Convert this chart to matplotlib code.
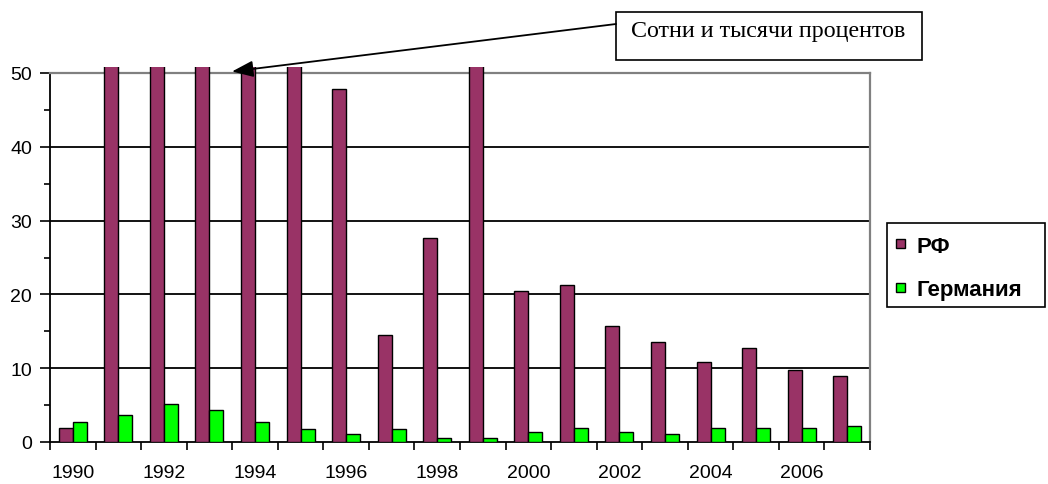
import matplotlib
matplotlib.use("Agg")
import matplotlib.pyplot as plt
import numpy as np
from matplotlib.patches import Rectangle, FancyArrowPatch
from matplotlib.ticker import MultipleLocator, FixedLocator

years = list(range(1990, 2008))
rf = [1.9, 92.6, 2509, 840, 215, 131, 47.8, 14.5, 27.7, 85.7, 20.5, 21.3, 15.7, 13.5, 10.8, 12.7, 9.7, 8.9]
germany = [2.7, 3.6, 5.1, 4.4, 2.7, 1.7, 1.1, 1.7, 0.5, 0.5, 1.4, 1.9, 1.4, 1.1, 1.9, 1.9, 1.9, 2.2]
series_names = ["РФ", "Германия"]
series_colors = ["#993366", "#00FF00"]
annotation_text = "Сотни и тысячи процентов"

W, H = 1048, 485
fig = plt.figure(figsize=(W / 100, H / 100), dpi=100)
plt.rcParams['font.family'] = ['Liberation Sans', 'DejaVu Sans']

ax = fig.add_axes([50 / W, 1 - 443 / H, (870 - 50) / W, (443 - 74) / H])

x = np.arange(len(years))
w = 0.3077
b1 = ax.bar(x - w / 2, rf, w, color=series_colors[0], edgecolor="black", linewidth=1.0,
            label=series_names[0], zorder=3)
b2 = ax.bar(x + w / 2, germany, w, color=series_colors[1], edgecolor="black", linewidth=1.0,
            label=series_names[1], zorder=3)

clip = Rectangle((0, 0), 1, 1.017, transform=ax.transAxes, facecolor="none", edgecolor="none")
for p in list(b1) + list(b2):
    p.set_clip_path(clip)

ax.set_xlim(-0.5, len(years) - 0.5)
ax.set_ylim(0, 50)

for v in [10, 20, 30, 40]:
    ax.axhline(v, color="black", linewidth=1.3, zorder=1)

ax.spines['top'].set_color('#808080')
ax.spines['right'].set_color('#808080')
ax.spines['top'].set_linewidth(1.6)
ax.spines['right'].set_linewidth(1.6)
ax.spines['left'].set_linewidth(1.3)
ax.spines['bottom'].set_linewidth(1.3)

ax.yaxis.set_major_locator(MultipleLocator(10))
ax.yaxis.set_minor_locator(MultipleLocator(5))
ax.tick_params(axis='y', which='major', length=7, width=1.2, labelsize=14, pad=6)
ax.tick_params(axis='y', which='minor', length=4, width=1.2)

ax.xaxis.set_major_locator(FixedLocator(x[::2]))
ax.set_xticklabels([str(y) for y in years[::2]])
ax.xaxis.set_minor_locator(FixedLocator(np.arange(-0.5, len(years), 1.0)))
ax.tick_params(axis='x', which='major', length=0, labelsize=14, pad=16)
ax.tick_params(axis='x', which='minor', length=6, width=1.2)

# legend (drawn in figure pixels)
def fy(py):
    return 1 - py / H

fig.patches.append(Rectangle((887 / W, fy(308)), (1045 - 887) / W, (308 - 224) / H,
                             transform=fig.transFigure, facecolor='white', edgecolor='black', linewidth=1.2))
leg_rows = [(240, 253), (284, 296)]
for (sq_top, base), name, col in zip(leg_rows, series_names, series_colors):
    fig.patches.append(Rectangle((896 / W, fy(sq_top + 9)), 9 / W, 9 / H, transform=fig.transFigure,
                                 facecolor=col, edgecolor='black', linewidth=1.0))
    fig.text(916 / W, fy(base), name, fontsize=16, fontweight='bold', ha='left', va='baseline')

# annotation box + arrow
fig.patches.append(Rectangle((616 / W, fy(61)), (922 - 616) / W, (61 - 13) / H, transform=fig.transFigure,
                             facecolor='white', edgecolor='black', linewidth=1.2))
fig.text(631 / W, fy(37), annotation_text, family=['Liberation Serif', 'DejaVu Serif'],
         fontsize=17.3, ha='left', va='baseline')
arr = FancyArrowPatch((616, H - 25), (232, H - 72.5), transform=None,
                      arrowstyle='-|>,head_length=13,head_width=5', mutation_scale=1,
                      color='black', linewidth=1.3, shrinkA=0, shrinkB=0)
fig.patches.append(arr)

fig.savefig("out.png", dpi=100)
